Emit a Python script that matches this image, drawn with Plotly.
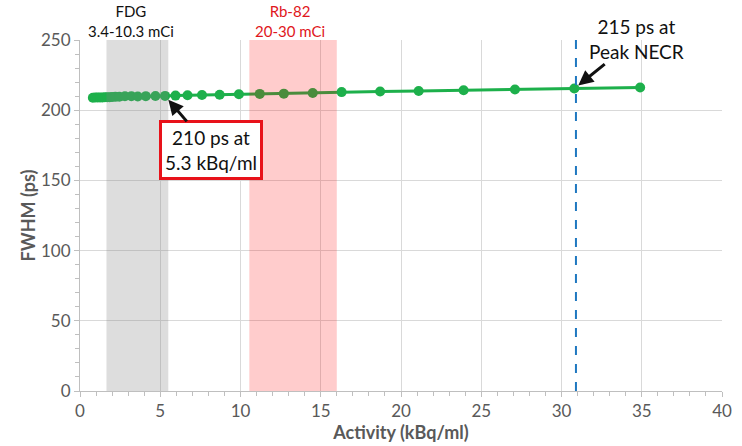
import plotly.graph_objects as go

activity = [0.8, 0.95, 1.1, 1.25, 1.4, 1.55, 1.7, 1.85, 2.0, 2.2, 2.45, 2.8, 3.2, 3.6, 4.1, 4.7, 5.3,
            5.95, 6.7, 7.6, 8.7, 9.9, 11.2, 12.7, 14.5, 16.3, 18.7, 21.1, 23.9, 27.1, 30.8, 34.9]
fwhm = [208.9, 209.0, 209.0, 209.1, 209.1, 209.2, 209.2, 209.3, 209.4, 209.5, 209.6, 209.9, 210.0, 209.7,
        210.0, 210.1, 210.2, 210.4, 210.6, 210.8, 211.0, 211.4, 211.6, 211.8, 212.2, 212.9, 213.3, 213.7,
        214.2, 214.8, 215.4, 216.2]

fdg_range = [1.65, 5.5]
rb_range = [10.55, 16.0]
peak_necr = 30.9

x_ticks = [0, 5, 10, 15, 20, 25, 30, 35, 40]
y_ticks = [0, 50, 100, 150, 200, 250]

FONT = "Lato"
GRAY = "#595959"

fig = go.Figure()
fig.add_trace(go.Scatter(
    x=activity, y=fwhm, mode="lines+markers",
    line=dict(color="#1DB04B", width=3),
    marker=dict(color="#1DB04B", size=10),
    showlegend=False, hoverinfo="skip"))

shapes = [
    dict(type="rect", xref="x", yref="y", x0=fdg_range[0], x1=fdg_range[1], y0=0, y1=250,
         fillcolor="rgba(128,128,128,0.27)", line=dict(width=0), layer="above"),
    dict(type="rect", xref="x", yref="y", x0=rb_range[0], x1=rb_range[1], y0=0, y1=250,
         fillcolor="rgba(255,0,0,0.2)", line=dict(width=0), layer="above"),
    dict(type="line", xref="x", yref="y", x0=peak_necr, x1=peak_necr, y0=0, y1=250,
         line=dict(color="#1F78C0", width=2, dash="dash"), layer="above"),
]

annotations = [
    dict(x=(fdg_range[0] + fdg_range[1]) / 2 - 0.4, y=1.0, xref="x", yref="paper", yanchor="bottom",
         yshift=-2, text="FDG<br>3.4-10.3 mCi", showarrow=False,
         font=dict(family=FONT, size=15, color="#111111")),
    dict(x=(rb_range[0] + rb_range[1]) / 2 - 0.2, y=1.0, xref="x", yref="paper", yanchor="bottom",
         yshift=-2, text="Rb-82<br>20-30 mCi", showarrow=False,
         font=dict(family=FONT, size=15, color="#E0161C")),
    dict(x=5.3, y=210.2, xref="x", yref="y", text="210 ps at<br>5.3 kBq/ml",
         showarrow=True, arrowhead=2, arrowsize=1, arrowwidth=3, arrowcolor="#111111",
         ax=46, ay=54, standoff=5,
         font=dict(family=FONT, size=19, color="#111111"),
         bordercolor="#E8121A", borderwidth=3, borderpad=3, bgcolor="white"),
    dict(x=30.8, y=215.4, xref="x", yref="y", text="215 ps at<br>Peak NECR",
         showarrow=True, arrowhead=2, arrowsize=1, arrowwidth=3, arrowcolor="#111111",
         ax=62, ay=-50, standoff=5,
         font=dict(family=FONT, size=19, color="#111111")),
]

fig.update_layout(
    width=742, height=446,
    margin=dict(l=80, r=20, t=40, b=55, autoexpand=False),
    paper_bgcolor="white", plot_bgcolor="white",
    shapes=shapes, annotations=annotations,
    font=dict(family=FONT, color=GRAY),
)
fig.update_xaxes(
    range=[0, 40], tickvals=x_ticks, ticktext=[str(v) for v in x_ticks],
    showgrid=True, gridcolor="#D9D9D9", gridwidth=1,
    showline=True, linecolor="#BFBFBF", linewidth=1,
    ticks="outside", ticklen=5, tickcolor="#BFBFBF",
    minor=dict(dtick=1, ticks="outside", ticklen=4, tickcolor="#BFBFBF", showgrid=False),
    tickfont=dict(family=FONT, size=17, color=GRAY),
    title=dict(text="<b>Activity (kBq/ml)</b>", font=dict(family=FONT, size=18, color=GRAY), standoff=4),
    zeroline=False, fixedrange=True, automargin=False)
fig.update_yaxes(
    range=[0, 250], tickvals=y_ticks, ticktext=[str(v) for v in y_ticks],
    showgrid=True, gridcolor="#D9D9D9", gridwidth=1,
    showline=True, linecolor="#BFBFBF", linewidth=1,
    ticks="outside", ticklen=5, tickcolor="#BFBFBF",
    minor=dict(dtick=10, ticks="outside", ticklen=4, tickcolor="#BFBFBF", showgrid=False),
    tickfont=dict(family=FONT, size=17, color=GRAY),
    title=dict(text="<b>FWHM (ps)</b>", font=dict(family=FONT, size=18, color=GRAY), standoff=0),
    zeroline=False, fixedrange=True, automargin=False)

fig.write_html("out.html", config={"displayModeBar": False},
               post_script="document.body.style.margin='0';document.body.style.overflow='hidden';")
